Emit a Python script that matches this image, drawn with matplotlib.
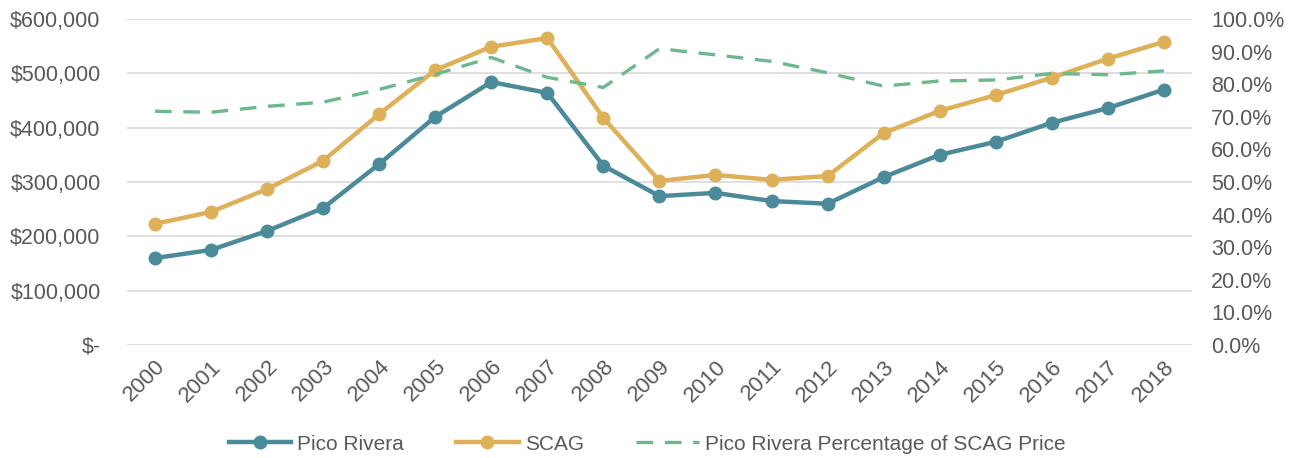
import matplotlib
matplotlib.use("Agg")
import matplotlib.pyplot as plt
from matplotlib.ticker import FuncFormatter, MultipleLocator

plt.rcParams['font.family'] = ['Liberation Sans', 'DejaVu Sans']

years = [str(y) for y in range(2000, 2019)]
pico_rivera = [160000, 175000, 210000, 252000, 333000, 420000, 484000, 464000, 330000, 274000,
               280000, 265000, 260000, 309000, 350000, 374000, 409000, 436000, 470000]
scag = [223000, 245000, 287000, 339000, 425000, 506000, 549000, 565000, 418000, 302000,
        313000, 304000, 311000, 390000, 431000, 460000, 492000, 527000, 558000]
pct_of_scag = [71.7, 71.4, 73.2, 74.5, 78.4, 83.0, 88.2, 82.1, 79.0, 90.9,
               89.0, 87.0, 83.5, 79.4, 81.0, 81.3, 83.3, 82.9, 84.1]

TEAL = '#4A8A99'
GOLD = '#DEB058'
GREEN = '#6DB88C'
TXT = '#595959'

fig = plt.figure(figsize=(12.94, 4.58), dpi=100)
ax = fig.add_axes([0.0981, 0.2467, 0.823, 0.7118])
ax2 = ax.twinx()

x = list(range(len(years)))
l1, = ax.plot(x, pico_rivera, color=TEAL, lw=3.2, marker='o', ms=9, label='Pico Rivera', zorder=3)
l2, = ax.plot(x, scag, color=GOLD, lw=3.2, marker='o', ms=9, label='SCAG', zorder=3)
l3, = ax2.plot(x, pct_of_scag, color=GREEN, lw=2.4, ls=(0, (5, 3.5)),
               label='Pico Rivera Percentage of SCAG Price')

ax.set_xlim(-0.5, len(years) - 0.5)
ax.set_ylim(0, 600000)
ax.yaxis.set_major_locator(MultipleLocator(100000))
ax.yaxis.set_major_formatter(FuncFormatter(lambda v, p: '$-' if v == 0 else f'${v:,.0f}'))
ax2.set_ylim(0, 100)
ax2.yaxis.set_major_locator(MultipleLocator(10))
ax2.yaxis.set_major_formatter(FuncFormatter(lambda v, p: f'{v:.1f}%'))

ax.set_xticks(x)
ax.set_xticklabels(years, rotation=45, ha='right', rotation_mode='anchor', fontsize=16)
ax.grid(axis='y', color='#D9D9D9', lw=1.2)
ax.set_axisbelow(True)

for a in (ax, ax2):
    for s in a.spines.values():
        s.set_visible(False)
    a.tick_params(length=0, labelsize=15.5, colors=TXT)
ax.tick_params(axis='y', pad=19)
ax.tick_params(axis='x', pad=8, labelsize=16)
ax2.tick_params(axis='y', pad=14)

fig.legend(handles=[l1, l2, l3], loc='center', bbox_to_anchor=(0.5, 0.03), ncol=3,
           frameon=False, fontsize=15, labelcolor=TXT, handlelength=3, columnspacing=2.5,
           handletextpad=0.3)

fig.savefig('out.png', dpi=100)
